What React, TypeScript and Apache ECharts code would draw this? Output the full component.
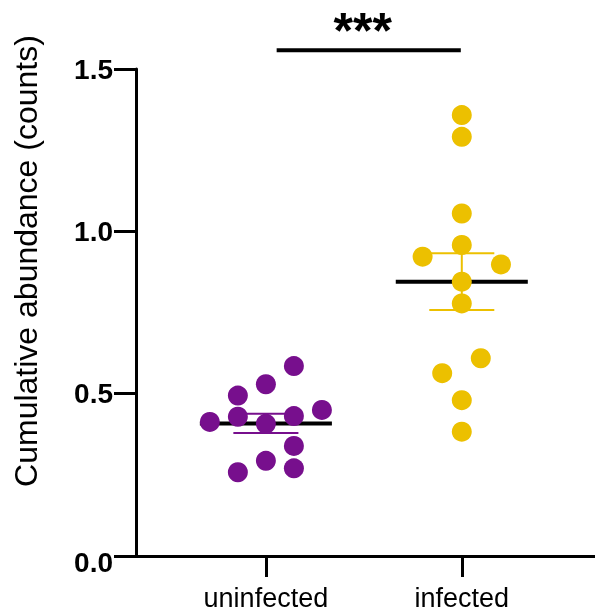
import React, { useEffect, useRef } from "react";
import * as echarts from "echarts";

// ---- data ----
const categories = ["uninfected", "infected"];
const uninfectedValues = [0.413, 0.494, 0.429, 0.258, 0.529, 0.407, 0.293, 0.585, 0.431, 0.339, 0.27, 0.45];
const uninfectedJitter = [-0.286, -0.143, -0.143, -0.143, 0, 0, 0, 0.143, 0.143, 0.143, 0.143, 0.286];
const infectedValues = [1.358, 1.291, 1.055, 0.958, 0.922, 0.898, 0.845, 0.778, 0.609, 0.563, 0.48, 0.383];
const infectedJitter = [0, 0, 0, 0, -0.2, 0.2, 0, 0, 0.097, -0.1, 0, 0];
const yTicks = [0, 0.5, 1.0, 1.5];
const significanceLabel = "***";
const significanceSpan = [1.055, 1.995];
const significanceLevel = 1.558;
const yTitle = "Cumulative abundance (counts)";

const FONT = "'Liberation Sans', Arial, sans-serif";
const PURPLE = "#770f8d";
const YELLOW = "#ecc000";

function mean(a: number[]) {
  return a.reduce((s, v) => s + v, 0) / a.length;
}
function sem(a: number[]) {
  const m = mean(a);
  const v = a.reduce((s, x) => s + (x - m) * (x - m), 0) / (a.length - 1);
  return Math.sqrt(v) / Math.sqrt(a.length);
}

export default function App() {
  const ref = useRef<HTMLDivElement>(null);
  useEffect(() => {
    if (!ref.current) return;
    const chart = echarts.init(ref.current, null, { renderer: "svg" });
    const groups = [
      { pos: 1, values: uninfectedValues, jitter: uninfectedJitter, color: PURPLE },
      { pos: 2, values: infectedValues, jitter: infectedJitter, color: YELLOW },
    ];
    const summary = groups.map((g) => [g.pos, mean(g.values), sem(g.values)]);
    const MEAN_HALF = 0.337;
    const CAP_HALF = 0.166;

    chart.setOption({
      animation: false,
      textStyle: { fontFamily: FONT },
      grid: { left: 136, right: 0, top: 69, bottom: 58, containLabel: false, outerBoundsMode: "none" },
      xAxis: {
        type: "value",
        min: 0.337,
        max: 2.68,
        axisLine: { show: true, lineStyle: { color: "#000", width: 3 } },
        axisTick: { show: true, length: 21, lineStyle: { color: "#000", width: 3 }, customValues: [1, 2] },
        axisLabel: {
          customValues: [1, 2],
          formatter: (v: number) => categories[Math.round(v) - 1] ?? "",
          fontSize: 27,
          color: "#000",
          fontFamily: FONT,
          margin: 28,
        },
        splitLine: { show: false },
      },
      yAxis: {
        type: "value",
        min: yTicks[0],
        max: yTicks[yTicks.length - 1],
        interval: 0.5,
        axisLine: { show: true, lineStyle: { color: "#000", width: 3 } },
        axisTick: { show: true, length: 22, lineStyle: { color: "#000", width: 3 } },
        axisLabel: {
          fontSize: 28,
          fontWeight: "bold",
          color: "#000",
          fontFamily: FONT,
          margin: 23,
          formatter: (v: number) => (v === 0 ? "{z|" + v.toFixed(1) + "}" : v.toFixed(1)),
          rich: {
            z: { fontSize: 28, fontWeight: "bold", fontFamily: FONT, color: "#000", padding: [12, 0, 0, 0] },
          },
        },
        splitLine: { show: false },
      },
      graphic: [
        {
          type: "text",
          x: 26,
          y: 261,
          rotation: Math.PI / 2,
          style: {
            text: yTitle,
            fontSize: 32,
            fontFamily: FONT,
            fill: "#000",
            textAlign: "center",
            textVerticalAlign: "middle",
          },
        },
      ],
      series: [
        {
          type: "custom",
          z: 1,
          data: summary,
          encode: { x: 0, y: 1 },
          renderItem: (params: any, api: any) => {
            const x = api.value(0);
            const m = api.value(1);
            const s = api.value(2);
            const color = groups[params.dataIndex].color;
            const top = api.coord([x, m + s]);
            const bot = api.coord([x, m - s]);
            const capL = api.coord([x - CAP_HALF, m + s]);
            const capR = api.coord([x + CAP_HALF, m + s]);
            const capL2 = api.coord([x - CAP_HALF, m - s]);
            const capR2 = api.coord([x + CAP_HALF, m - s]);
            const mL = api.coord([x - MEAN_HALF, m]);
            const mR = api.coord([x + MEAN_HALF, m]);
            const ls = { stroke: color, lineWidth: 2 };
            return {
              type: "group",
              children: [
                { type: "line", shape: { x1: top[0], y1: top[1], x2: bot[0], y2: bot[1] }, style: ls },
                { type: "line", shape: { x1: capL[0], y1: capL[1], x2: capR[0], y2: capR[1] }, style: ls },
                { type: "line", shape: { x1: capL2[0], y1: capL2[1], x2: capR2[0], y2: capR2[1] }, style: ls },
                { type: "line", shape: { x1: mL[0], y1: mL[1], x2: mR[0], y2: mR[1] }, style: { stroke: "#000", lineWidth: 4 } },
              ],
            };
          },
        },
        ...groups.map((g) => ({
          type: "scatter",
          z: 3,
          symbol: "circle",
          symbolSize: 20,
          itemStyle: { color: g.color, opacity: 1 },
          data: g.values.map((v, i) => [g.pos + g.jitter[i], v]),
        })),
        {
          type: "custom",
          z: 4,
          clip: false,
          data: [[significanceSpan[0], significanceSpan[1], significanceLevel]],
          encode: { x: [0, 1], y: 2 },
          renderItem: (params: any, api: any) => {
            const a = api.coord([api.value(0), api.value(2)]);
            const b = api.coord([api.value(1), api.value(2)]);
            return {
              type: "group",
              children: [
                { type: "line", shape: { x1: a[0], y1: a[1], x2: b[0], y2: b[1] }, style: { stroke: "#000", lineWidth: 4 } },
                {
                  type: "text",
                  x: (a[0] + b[0]) / 2 - 6,
                  y: a[1] - 19,
                  style: {
                    text: significanceLabel,
                    fontSize: 50,
                    fontWeight: "bold",
                    fontFamily: FONT,
                    fill: "#000",
                    textAlign: "center",
                    textVerticalAlign: "middle",
                  },
                },
              ],
            };
          },
        },
      ],
    });
    return () => chart.dispose();
  }, []);
  return <div ref={ref} style={{ position: "fixed", left: 0, top: 0, width: 595, height: 614 }} />;
}
